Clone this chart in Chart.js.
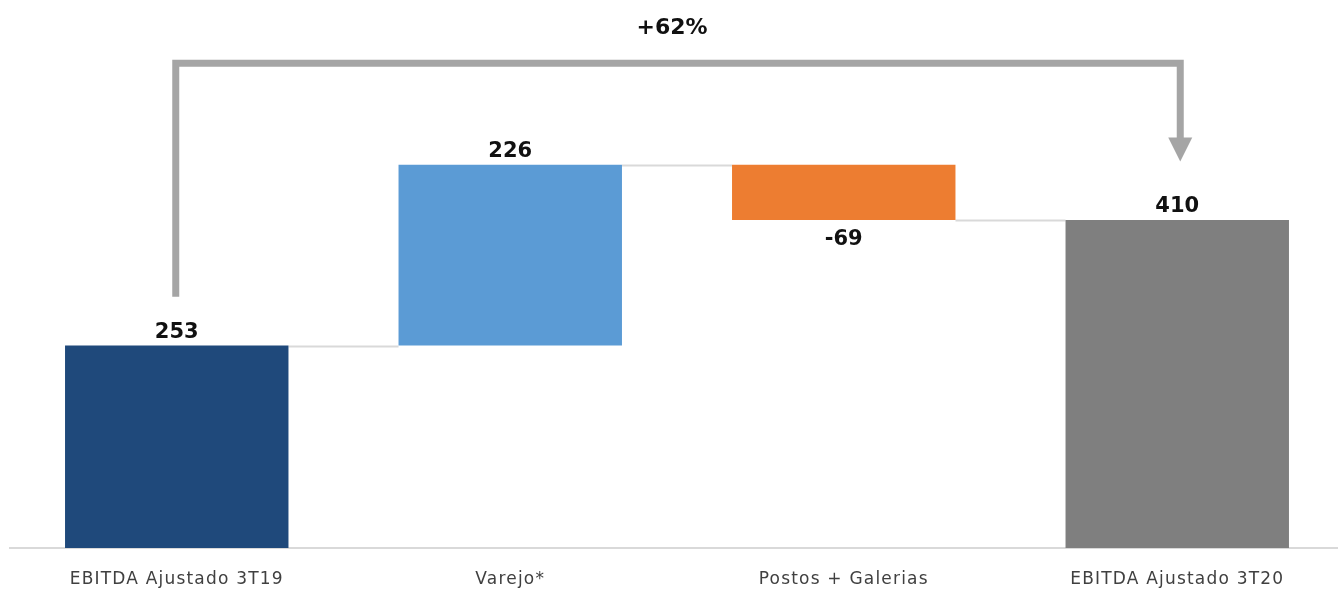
<!DOCTYPE html>
<html>
<head>
<meta charset="utf-8">
<script src="https://cdn.jsdelivr.net/npm/chart.js@4.4.1/dist/chart.umd.min.js"></script>
<style>
  html, body { margin: 0; padding: 0; background: #fff; overflow: hidden; }
</style>
</head>
<body>
<canvas id="chart" width="1346" height="589"></canvas>
<script>
// dados da ponte de EBITDA
const categorias = ['EBITDA Ajustado 3T19', 'Varejo*', 'Postos + Galerias', 'EBITDA Ajustado 3T20'];
const variacoes = [253, 226, -69, 410];
const totais = [true, false, false, true];
const rotulos = ['253', '226', '-69', '410'];
const cores = ['#1F497B', '#5B9BD5', '#ED7D31', '#7F7F7F'];
const variacaoPct = '+62%';

// seta de comparação (em unidades do eixo y)
const setaTopo = 606;
const setaInicio = 314;
const setaFim = 483;

// monta as barras flutuantes
let acumulado = 0;
const barras = variacoes.map((v, i) => {
    if (totais[i]) {
        acumulado = v;
        return [0, v];
    }
    const ini = acumulado;
    acumulado += v;
    return [Math.min(ini, acumulado), Math.max(ini, acumulado)];
});

const pluginPonte = {
    id: 'ponte',
    // a fonte original (Century Gothic) é bem larga
    beforeLayout(chart) { chart.ctx.letterSpacing = '1.2px'; },
    beforeDraw(chart) { chart.ctx.letterSpacing = '1.2px'; },
    beforeDatasetsDraw(chart) {
        const ctx = chart.ctx;
        const meta = chart.getDatasetMeta(0);
        const y = chart.scales.y;
        ctx.save();
        ctx.strokeStyle = '#D9D9D9';
        ctx.lineWidth = 2;
        // linhas de ligação entre barras
        let nivel = 0;
        for (let i = 0; i < meta.data.length - 1; i++) {
            nivel = totais[i] ? variacoes[i] : nivel + variacoes[i];
            const a = meta.data[i], b = meta.data[i + 1];
            const py = Math.round(y.getPixelForValue(nivel)) + 0.5;
            ctx.beginPath();
            ctx.moveTo(a.x + a.width / 2, py);
            ctx.lineTo(b.x - b.width / 2, py);
            ctx.stroke();
        }
        ctx.restore();
    },
    afterDatasetsDraw(chart) {
        const ctx = chart.ctx;
        const meta = chart.getDatasetMeta(0);
        const y = chart.scales.y;
        ctx.save();
        ctx.letterSpacing = '0px';
        // rótulos de valor
        ctx.fillStyle = '#111';
        ctx.font = 'bold 21px "DejaVu Sans"';
        ctx.textAlign = 'center';
        meta.data.forEach((bar, i) => {
            if (variacoes[i] < 0) {
                ctx.textBaseline = 'top';
                ctx.fillText(rotulos[i], bar.x, bar.base + 9);
            } else {
                ctx.textBaseline = 'bottom';
                ctx.fillText(rotulos[i], bar.x, bar.y - 3);
            }
        });

        // seta de variação
        const first = meta.data[0], last = meta.data[meta.data.length - 1];
        const x1 = first.x - 1, x2 = last.x + 3;
        const yt = y.getPixelForValue(setaTopo);
        const ys = y.getPixelForValue(setaInicio);
        const ye = y.getPixelForValue(setaFim);
        ctx.strokeStyle = '#A5A5A5';
        ctx.fillStyle = '#A5A5A5';
        ctx.lineWidth = 7;
        ctx.lineJoin = 'miter';
        ctx.beginPath();
        ctx.moveTo(x1, ys);
        ctx.lineTo(x1, yt);
        ctx.lineTo(x2, yt);
        ctx.lineTo(x2, ye - 23);
        ctx.stroke();
        ctx.beginPath();
        ctx.moveTo(x2 - 12, ye - 24);
        ctx.lineTo(x2 + 12, ye - 24);
        ctx.lineTo(x2, ye);
        ctx.closePath();
        ctx.fill();

        ctx.fillStyle = '#111';
        ctx.font = 'bold 22px "DejaVu Sans"';
        ctx.textBaseline = 'middle';
        ctx.fillText(variacaoPct, 672, yt - 35);
        ctx.restore();
    }
};

new Chart(document.getElementById('chart'), {
    type: 'bar',
    data: {
        labels: categorias,
        datasets: [{
            data: barras,
            backgroundColor: cores,
            borderWidth: 0,
            borderSkipped: false,
            barPercentage: 0.67,
            categoryPercentage: 1
        }]
    },
    options: {
        responsive: false,
        animation: false,
        devicePixelRatio: 1,
        layout: { padding: { top: 68, left: 10, right: 2, bottom: 0 } },
        plugins: { legend: { display: false }, tooltip: { enabled: false } },
        scales: {
            x: {
                grid: { display: false, drawTicks: false },
                border: { display: true, color: '#D9D9D9', width: 2 },
                ticks: {
                    color: '#404040',
                    font: { family: 'DejaVu Sans', size: 17 },
                    padding: 21,
                    maxRotation: 0
                },
                afterFit(scale) { scale.height = 41; }
            },
            y: {
                display: false,
                min: 0,
                max: 600
            }
        }
    },
    plugins: [pluginPonte]
});
</script>
</body>
</html>
